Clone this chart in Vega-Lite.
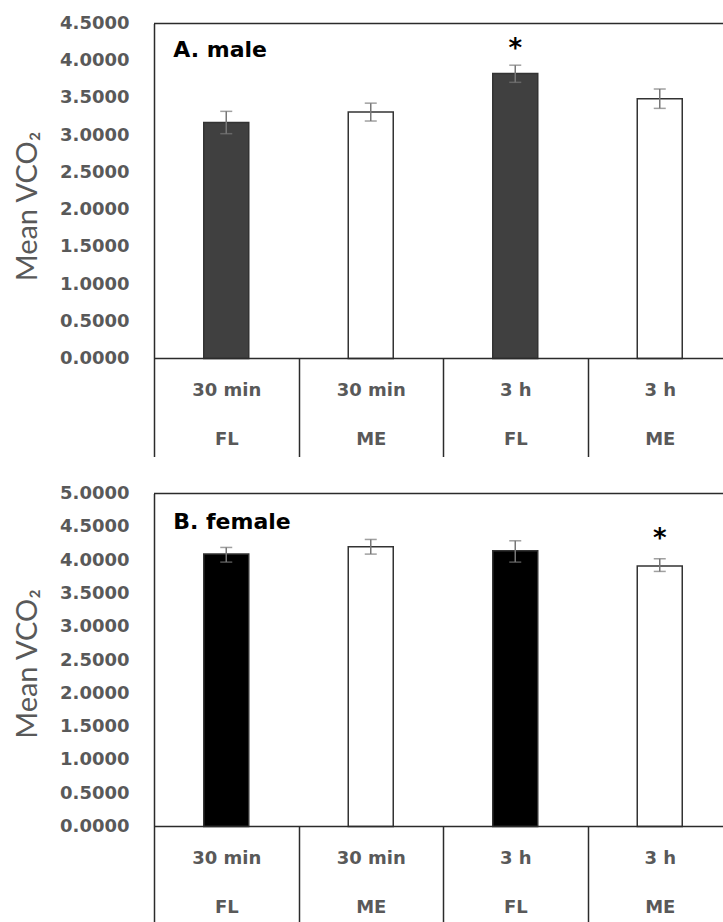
{
  "$schema": "https://vega.github.io/schema/vega-lite/v6.json",
  "padding": {"left": 13, "top": 14.5, "right": 0, "bottom": 0},
  "background": "white",
  "config": {
    "view": {"stroke": null},
    "font": "DejaVu Sans",
    "axisY": {
      "grid": false, "ticks": false, "labelOverlap": false, "tickCount": 12,
      "domainColor": "#2b2b2b", "domainWidth": 1.5,
      "labelFont": "DejaVu Sans", "labelFontSize": 18, "labelFontWeight": "bold",
      "labelColor": "#595959", "labelPadding": 25,
      "titleFont": "Lato", "titleFontSize": 29, "titleFontWeight": "normal",
      "titleColor": "#595959", "titleX": -127,
      "titleBaseline": "middle", "titleAlign": "center", "titleAngle": 270
    },
    "axisX": {
      "domain": false, "ticks": true, "tickSize": 98, "grid": false,
      "tickColor": "#2b2b2b", "tickWidth": 1.5, "tickOffset": -72.25,
      "labelOffset": 72.25, "labelAngle": 0, "labelOverlap": false,
      "labelFont": "DejaVu Sans", "labelFontSize": 18, "labelFontWeight": "bold",
      "labelColor": "#595959", "labelPadding": -75, "labelLineHeight": 49,
      "labelBaseline": "top", "labelAlign": "center"
    }
  },
  "spacing": 27,
  "datasets": {
    "male": [
      {"cond": "30 min|FL", "group": "FL", "mean": 3.17, "lo": 3.02, "hi": 3.32, "sig": ""},
      {"cond": "30 min|ME", "group": "ME", "mean": 3.31, "lo": 3.19, "hi": 3.43, "sig": ""},
      {"cond": "3 h|FL", "group": "FL", "mean": 3.83, "lo": 3.71, "hi": 3.94, "sig": "*"},
      {"cond": "3 h|ME", "group": "ME", "mean": 3.49, "lo": 3.36, "hi": 3.62, "sig": ""}
    ],
    "female": [
      {"cond": "30 min|FL", "group": "FL", "mean": 4.09, "lo": 3.97, "hi": 4.19, "sig": ""},
      {"cond": "30 min|ME", "group": "ME", "mean": 4.2, "lo": 4.09, "hi": 4.31, "sig": ""},
      {"cond": "3 h|FL", "group": "FL", "mean": 4.14, "lo": 3.97, "hi": 4.29, "sig": ""},
      {"cond": "3 h|ME", "group": "ME", "mean": 3.91, "lo": 3.83, "hi": 4.02, "sig": "*"}
    ]
  },
  "vconcat": [
    {
      "width": 570,
      "height": 335,
      "layer": [
        {
          "data": {"name": "male"},
          "mark": {"type": "bar", "width": 45, "stroke": "#333333", "strokeWidth": 1.5},
          "encoding": {
            "x": {
              "field": "cond", "type": "nominal", "sort": null,
              "scale": {"type": "point", "range": [72.25, 505.75], "padding": 0},
              "axis": {"title": null, "labelExpr": "split(datum.label, '|')"}
            },
            "y": {
              "field": "mean", "type": "quantitative",
              "scale": {"domain": [0, 4.5], "nice": false},
              "axis": {"title": "Mean VCO₂", "values": [0, 0.5, 1, 1.5, 2, 2.5, 3, 3.5, 4, 4.5], "format": ".4f", "titleY": 182.5}
            },
            "fill": {"condition": {"test": "datum.group === 'FL'", "value": "#404040"}, "value": "white"}
          }
        },
        {
          "data": {"name": "male"},
          "mark": {"type": "rule", "color": "#777777", "strokeWidth": 1.5},
          "encoding": {
            "x": {"field": "cond", "type": "nominal", "sort": null, "axis": {"title": null, "labelExpr": "split(datum.label, '|')"}},
            "y": {"field": "lo", "type": "quantitative", "axis": {"title": "Mean VCO₂", "values": [0, 0.5, 1, 1.5, 2, 2.5, 3, 3.5, 4, 4.5], "format": ".4f", "titleY": 182.5}},
            "y2": {"field": "hi"}
          }
        },
        {
          "data": {"name": "male"},
          "mark": {"type": "tick", "color": "#777777", "thickness": 1.5, "size": 12},
          "encoding": {
            "x": {"field": "cond", "type": "nominal", "sort": null, "axis": {"title": null, "labelExpr": "split(datum.label, '|')"}},
            "y": {"field": "hi", "type": "quantitative", "axis": {"title": "Mean VCO₂", "values": [0, 0.5, 1, 1.5, 2, 2.5, 3, 3.5, 4, 4.5], "format": ".4f", "titleY": 182.5}}
          }
        },
        {
          "data": {"name": "male"},
          "mark": {"type": "tick", "color": "#777777", "thickness": 1.5, "size": 12},
          "encoding": {
            "x": {"field": "cond", "type": "nominal", "sort": null, "axis": {"title": null, "labelExpr": "split(datum.label, '|')"}},
            "y": {"field": "lo", "type": "quantitative", "axis": {"title": "Mean VCO₂", "values": [0, 0.5, 1, 1.5, 2, 2.5, 3, 3.5, 4, 4.5], "format": ".4f", "titleY": 182.5}}
          }
        },
        {
          "data": {"name": "male"},
          "mark": {"type": "text", "fontSize": 26, "fontWeight": "bold", "color": "black", "baseline": "alphabetic", "dy": -8},
          "encoding": {
            "x": {"field": "cond", "type": "nominal", "sort": null, "axis": {"title": null, "labelExpr": "split(datum.label, '|')"}},
            "y": {"field": "hi", "type": "quantitative", "axis": {"title": "Mean VCO₂", "values": [0, 0.5, 1, 1.5, 2, 2.5, 3, 3.5, 4, 4.5], "format": ".4f", "titleY": 182.5}},
            "text": {"field": "sig"}
          }
        },
        {
          "data": {"values": [{"t": "A. male"}]},
          "mark": {"type": "text", "align": "left", "baseline": "middle", "fontSize": 22, "fontWeight": "bold", "color": "black", "dx": -53, "dy": 26.5},
          "encoding": {
            "x": {"datum": "30 min|FL", "type": "nominal", "axis": {"title": null, "labelExpr": "split(datum.label, '|')"}},
            "y": {"datum": 4.5, "type": "quantitative", "axis": {"title": "Mean VCO₂", "values": [0, 0.5, 1, 1.5, 2, 2.5, 3, 3.5, 4, 4.5], "format": ".4f", "titleY": 182.5}},
            "text": {"field": "t"}
          }
        },
        {
          "data": {"values": [{"v": 4.5}, {"v": 0}]},
          "mark": {"type": "rule", "color": "#2b2b2b", "strokeWidth": 1.5},
          "encoding": {"y": {"field": "v", "type": "quantitative", "axis": {"title": "Mean VCO₂", "values": [0, 0.5, 1, 1.5, 2, 2.5, 3, 3.5, 4, 4.5], "format": ".4f", "titleY": 182.5}}}
        }
      ]
    },
    {
      "width": 570,
      "height": 333,
      "layer": [
        {
          "data": {"name": "female"},
          "mark": {"type": "bar", "width": 45, "stroke": "#333333", "strokeWidth": 1.5},
          "encoding": {
            "x": {
              "field": "cond", "type": "nominal", "sort": null,
              "scale": {"type": "point", "range": [72.25, 505.75], "padding": 0},
              "axis": {"title": null, "labelExpr": "split(datum.label, '|')"}
            },
            "y": {
              "field": "mean", "type": "quantitative",
              "scale": {"domain": [0, 5], "nice": false},
              "axis": {"title": "Mean VCO₂", "values": [0, 0.5, 1, 1.5, 2, 2.5, 3, 3.5, 4, 4.5, 5], "format": ".4f", "titleY": 170}
            },
            "fill": {"condition": {"test": "datum.group === 'FL'", "value": "#000000"}, "value": "white"}
          }
        },
        {
          "data": {"name": "female"},
          "mark": {"type": "rule", "color": "#777777", "strokeWidth": 1.5},
          "encoding": {
            "x": {"field": "cond", "type": "nominal", "sort": null, "axis": {"title": null, "labelExpr": "split(datum.label, '|')"}},
            "y": {"field": "lo", "type": "quantitative", "axis": {"title": "Mean VCO₂", "values": [0, 0.5, 1, 1.5, 2, 2.5, 3, 3.5, 4, 4.5, 5], "format": ".4f", "titleY": 170}},
            "y2": {"field": "hi"}
          }
        },
        {
          "data": {"name": "female"},
          "mark": {"type": "tick", "color": "#777777", "thickness": 1.5, "size": 12},
          "encoding": {
            "x": {"field": "cond", "type": "nominal", "sort": null, "axis": {"title": null, "labelExpr": "split(datum.label, '|')"}},
            "y": {"field": "hi", "type": "quantitative", "axis": {"title": "Mean VCO₂", "values": [0, 0.5, 1, 1.5, 2, 2.5, 3, 3.5, 4, 4.5, 5], "format": ".4f", "titleY": 170}}
          }
        },
        {
          "data": {"name": "female"},
          "mark": {"type": "tick", "color": "#777777", "thickness": 1.5, "size": 12},
          "encoding": {
            "x": {"field": "cond", "type": "nominal", "sort": null, "axis": {"title": null, "labelExpr": "split(datum.label, '|')"}},
            "y": {"field": "lo", "type": "quantitative", "axis": {"title": "Mean VCO₂", "values": [0, 0.5, 1, 1.5, 2, 2.5, 3, 3.5, 4, 4.5, 5], "format": ".4f", "titleY": 170}}
          }
        },
        {
          "data": {"name": "female"},
          "mark": {"type": "text", "fontSize": 26, "fontWeight": "bold", "color": "black", "baseline": "alphabetic", "dy": -12},
          "encoding": {
            "x": {"field": "cond", "type": "nominal", "sort": null, "axis": {"title": null, "labelExpr": "split(datum.label, '|')"}},
            "y": {"field": "hi", "type": "quantitative", "axis": {"title": "Mean VCO₂", "values": [0, 0.5, 1, 1.5, 2, 2.5, 3, 3.5, 4, 4.5, 5], "format": ".4f", "titleY": 170}},
            "text": {"field": "sig"}
          }
        },
        {
          "data": {"values": [{"t": "B. female"}]},
          "mark": {"type": "text", "align": "left", "baseline": "middle", "fontSize": 22, "fontWeight": "bold", "color": "black", "dx": -53, "dy": 28.5},
          "encoding": {
            "x": {"datum": "30 min|FL", "type": "nominal", "axis": {"title": null, "labelExpr": "split(datum.label, '|')"}},
            "y": {"datum": 5, "type": "quantitative", "axis": {"title": "Mean VCO₂", "values": [0, 0.5, 1, 1.5, 2, 2.5, 3, 3.5, 4, 4.5, 5], "format": ".4f", "titleY": 170}},
            "text": {"field": "t"}
          }
        },
        {
          "data": {"values": [{"v": 5}, {"v": 0}]},
          "mark": {"type": "rule", "color": "#2b2b2b", "strokeWidth": 1.5},
          "encoding": {"y": {"field": "v", "type": "quantitative", "axis": {"title": "Mean VCO₂", "values": [0, 0.5, 1, 1.5, 2, 2.5, 3, 3.5, 4, 4.5, 5], "format": ".4f", "titleY": 170}}}
        }
      ]
    }
  ]
}
